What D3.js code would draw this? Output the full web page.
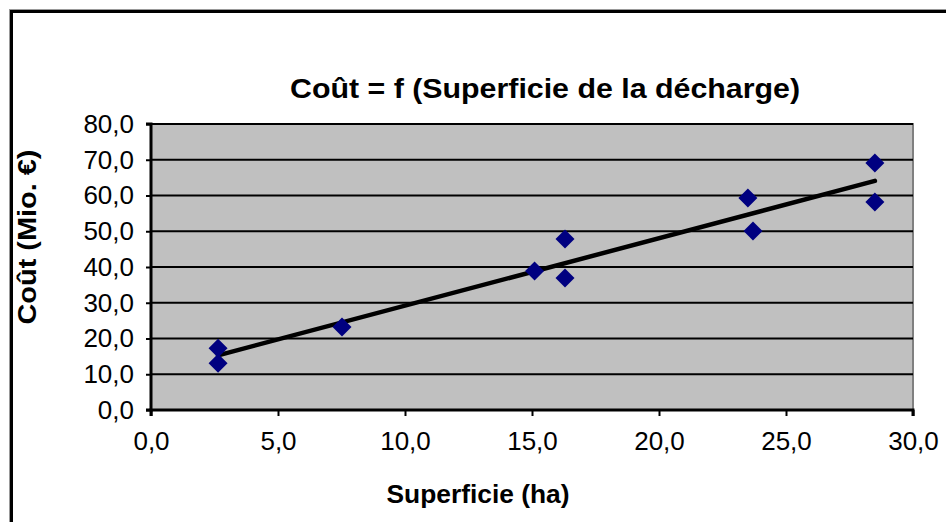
<!DOCTYPE html>
<html><head><meta charset="utf-8">
<script src="https://cdn.jsdelivr.net/npm/d3@7"></script>
<style>body{margin:0;background:#fff}svg{display:block}</style>
</head><body>
<script>
const superficie = [2.64, 2.64, 7.52, 15.1, 16.3, 16.3, 23.5, 23.7, 28.5, 28.5];
const cout       = [17.3, 13.1, 23.2, 38.9, 47.8, 36.9, 59.3, 50.1, 69.1, 58.2];
const xTicks = [0, 5, 10, 15, 20, 25, 30];
const yTicks = [0, 10, 20, 30, 40, 50, 60, 70, 80];
const title = "Coût = f (Superficie  de  la  décharge)";
const xTitle = "Superficie (ha)";
const yTitle = "Coût (Mio. €)";

const W = 946, H = 522;
const m = {left: 151, right: 913, top: 124, bottom: 410};
const svg = d3.select("body").append("svg").attr("width", W).attr("height", H);
const font = "'Liberation Sans', Arial, sans-serif";

// outer frame (extends past the picture on right/bottom)
svg.append("rect").attr("x", 9.5).attr("y", 9.5).attr("width", 1000).attr("height", 1000)
  .attr("fill", "none").attr("stroke", "#999").attr("stroke-width", 1);
svg.append("rect").attr("x", 11.5).attr("y", 11.5).attr("width", 1000).attr("height", 1000)
  .attr("fill", "none").attr("stroke", "#000").attr("stroke-width", 3);

const x = d3.scaleLinear().domain([0, 30]).range([m.left, m.right]);
const y = d3.scaleLinear().domain([0, 80]).range([m.bottom, m.top]);

// plot area
svg.append("rect").attr("x", m.left).attr("y", m.top)
  .attr("width", m.right - m.left).attr("height", m.bottom - m.top)
  .attr("fill", "#C0C0C0").attr("stroke", "#808080").attr("stroke-width", 2);

// gridlines
svg.append("g").selectAll("line").data(yTicks.filter(d => d > 0)).join("line")
  .attr("x1", m.left).attr("x2", m.right)
  .attr("y1", d => y(d)).attr("y2", d => y(d))
  .attr("stroke", "#000").attr("stroke-width", 2);

const fmt = d => d.toFixed(1).replace(".", ",");

// axes
const yAxis = svg.append("g").attr("transform", `translate(${m.left},0)`)
  .call(d3.axisLeft(y).tickValues(yTicks).tickSize(5).tickPadding(12).tickFormat(fmt));
const xAxis = svg.append("g").attr("transform", `translate(0,${m.bottom})`)
  .call(d3.axisBottom(x).tickValues(xTicks).tickSize(6).tickPadding(16).tickFormat(fmt));
[xAxis, yAxis].forEach(a => {
  a.select(".domain").attr("stroke", "#000").attr("stroke-width", 3);
  a.selectAll(".tick line").attr("stroke", "#000").attr("stroke-width", 2);
  a.selectAll("text").attr("font-family", font).attr("font-size", 26).attr("fill", "#000");
});
yAxis.select(".domain").attr("d", `M-5,${m.top}H0V${m.bottom}H-5`);
xAxis.select(".domain").attr("d", `M${m.left},6V0H${m.right}V6`);

// trendline (least squares)
const n = superficie.length;
const mx = d3.mean(superficie), my = d3.mean(cout);
let sxy = 0, sxx = 0;
for (let i = 0; i < n; i++) { sxy += (superficie[i]-mx)*(cout[i]-my); sxx += (superficie[i]-mx)**2; }
const slope = sxy / sxx, icpt = my - slope * mx;
const x0 = d3.min(superficie), x1 = d3.max(superficie);
svg.append("line")
  .attr("x1", x(x0)).attr("y1", y(icpt + slope * x0))
  .attr("x2", x(x1)).attr("y2", y(icpt + slope * x1))
  .attr("stroke", "#000").attr("stroke-width", 4.5).attr("stroke-linecap", "round");

// markers
const diamond = d3.symbolDiamond2 || d3.symbolSquare;
svg.append("g").selectAll("path").data(superficie.map((s, i) => [s, cout[i]])).join("path")
  .attr("d", d3.symbol().type(diamond).size(230))
  .attr("transform", d => `translate(${x(d[0])},${y(d[1])}) rotate(${d3.symbolDiamond2 ? 0 : 45})`)
  .attr("fill", "#000080");

// titles
svg.append("text").attr("x", 545).attr("y", 98).attr("text-anchor", "middle")
  .attr("font-family", font).attr("font-weight", "bold").attr("font-size", 28)
  .attr("textLength", 510).attr("lengthAdjust", "spacingAndGlyphs").text(title);
svg.append("text").attr("x", 478).attr("y", 503).attr("text-anchor", "middle")
  .attr("font-family", font).attr("font-weight", "bold").attr("font-size", 25)
  .attr("textLength", 183).attr("lengthAdjust", "spacingAndGlyphs").text(xTitle);
svg.append("text").attr("transform", "translate(36,237) rotate(-90)").attr("text-anchor", "middle")
  .attr("font-family", font).attr("font-weight", "bold").attr("font-size", 25)
  .attr("textLength", 175).attr("lengthAdjust", "spacingAndGlyphs").text(yTitle);
</script>
</body></html>
